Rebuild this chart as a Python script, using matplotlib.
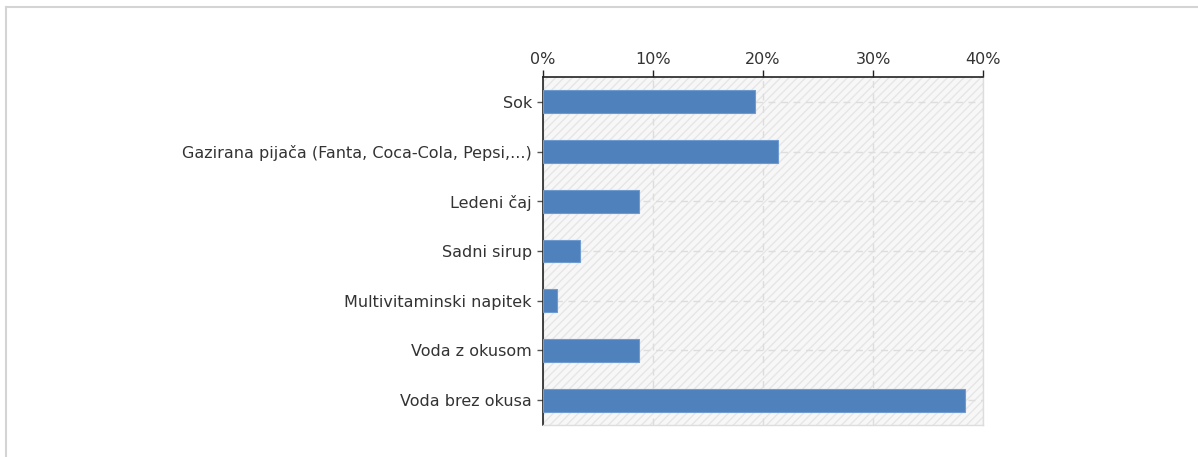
import matplotlib
matplotlib.use("Agg")
import matplotlib.pyplot as plt
from matplotlib.lines import Line2D
from matplotlib.patches import Rectangle
from matplotlib.ticker import FuncFormatter

# answers and their share (in %)
categories = [
    "Sok",
    "Gazirana pijača (Fanta, Coca-Cola, Pepsi,...)",
    "Ledeni čaj",
    "Sadni sirup",
    "Multivitaminski napitek",
    "Voda z okusom",
    "Voda brez okusa",
]
shares = [19.3, 21.4, 8.7, 3.4, 1.3, 8.7, 38.4]
x_ticks = [0, 10, 20, 30, 40]

W, H = 1198, 457
fig = plt.figure(figsize=(W / 100, H / 100), dpi=100)

# light page frame: only the top and left edges are visible
frame_kw = dict(transform=fig.transFigure, color="#d4d4d4", linewidth=1.5)
fig.lines.append(Line2D([6 / W, 1.0], [1 - 7 / H, 1 - 7 / H], **frame_kw))
fig.lines.append(Line2D([6 / W, 6 / W], [0.0, 1 - 7 / H], **frame_kw))

ax = fig.add_axes([543 / W, 1 - 425 / H, (983 - 543) / W, (425 - 77) / H])
ax.set_facecolor("#f7f7f7")

ypos = list(range(len(categories)))
ax.barh(ypos, shares, height=0.46, color="#4f81bd", edgecolor="#6f9bd1",
        linewidth=0.8, zorder=3)

ax.set_xlim(0, 40)
ax.set_ylim(len(categories) - 0.5, -0.5)

# hatched plot background
ax.add_patch(Rectangle((0, 0), 1, 1, transform=ax.transAxes, facecolor="none",
                       edgecolor="#e6e6e6", hatch="////", linewidth=0, zorder=0))

ax.xaxis.tick_top()
ax.set_xticks(x_ticks)
ax.xaxis.set_major_formatter(FuncFormatter(lambda v, p: "{:.0f}%".format(v)))
ax.set_yticks(ypos)
ax.set_yticklabels(categories)

ax.grid(True, color="#dddddd", linestyle=(0, (5, 4)), linewidth=1, zorder=1)
ax.set_axisbelow(True)

ax.tick_params(axis="x", colors="#222222", labelcolor="#333333", length=5,
               width=1, labelsize=11.5, pad=2)
ax.tick_params(axis="y", colors="#555555", labelcolor="#333333", length=4,
               width=1, labelsize=11.5, pad=4)

for side in ["top", "left"]:
    ax.spines[side].set_color("#222222")
    ax.spines[side].set_linewidth(1.2)
for side in ["right", "bottom"]:
    ax.spines[side].set_color("#dddddd")
    ax.spines[side].set_linewidth(1)

fig.savefig("out.png", dpi=100)
